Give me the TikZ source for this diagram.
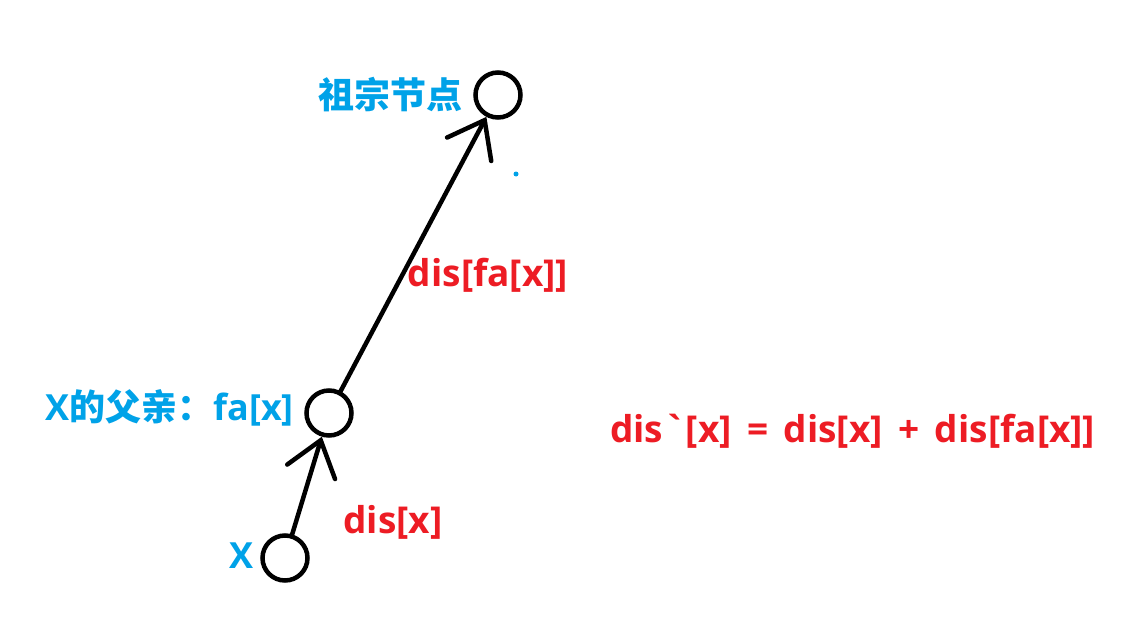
\documentclass[tikz,border=0pt]{standalone}
\usepackage{fontspec}
\setmainfont{Open Sans}[Ligatures=TeXOff,BoldFont={Open Sans Bold}]
\newfontfamily\cjk{Noto Sans CJK SC}
\usetikzlibrary{arrows.meta}
\definecolor{pblue}{RGB}{0,162,232}
\definecolor{pred}{RGB}{237,28,36}
\tikzset{
  vert/.style={circle,draw=black,line width=4.5pt,minimum size=45pt,inner sep=0pt},
  edge/.style={line width=4.5pt,line cap=round,-{Straight Barb[length=33pt,width=50pt,line cap=round]}},
  bluetxt/.style={text=pblue,font=\fontsize{36}{40}\selectfont\bfseries,inner sep=0pt},
  redtxt/.style={text=pred,font=\fontsize{37}{40}\selectfont\bfseries,inner sep=0pt},
}
\newcommand{\cj}[1]{{\cjk\fontsize{36}{40}\selectfont\bfseries #1}}
\newcommand{\gap}{\hspace{0.42em}}
\begin{document}
\begin{tikzpicture}[x=1pt,y=-1pt]
\useasboundingbox[fill=white] (0,0) rectangle (1130,629);
\node[vert] (anc) at (498,95) {};
\node[vert] (fa) at (329,413) {};
\node[vert] (x) at (285,558) {};
\draw[edge] (x) -- (fa);
\draw[edge] (fa) -- (anc);
\node[bluetxt,anchor=east] (lanc) at (463,95) {\cj{祖宗节点}};
\node[bluetxt,anchor=east] (lfa) at (294,408) {X\cj{的父亲：}fa[x]};
\node[bluetxt,anchor=east] (lx) at (254,556) {X};
\node[redtxt] (e1) at (488,275) {dis[fa[x]]};
\node[redtxt] (e2) at (393,522) {dis[x]};
\node[redtxt,anchor=west] (eq) at (610,431) {dis`[x]\gap=\gap dis[x]\gap+\gap dis[fa[x]]};
\fill[pblue] (516,174) circle (2.5pt);
\end{tikzpicture}
\end{document}
